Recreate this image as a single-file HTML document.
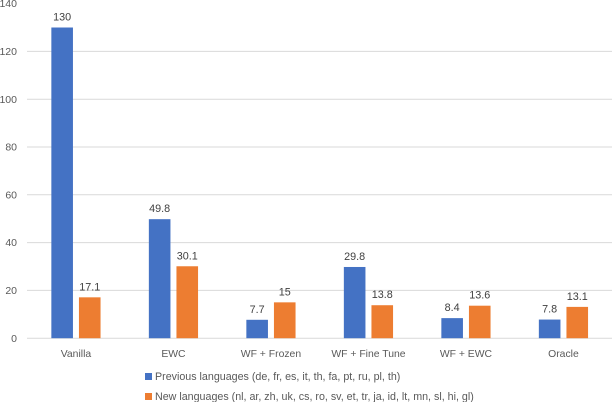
<!DOCTYPE html>
<html>
<head>
<meta charset="utf-8">
<style>
html,body{margin:0;padding:0;background:#fff;width:612px;height:402px;overflow:hidden}
svg{display:block;font-family:"Liberation Sans",sans-serif}
</style>
</head>
<body>
<svg id="chart" width="612" height="402" viewBox="0 0 612 402"></svg>
<script>
const categories = ["Vanilla", "EWC", "WF + Frozen", "WF + Fine Tune", "WF + EWC", "Oracle"];
const previousValues = [130, 49.8, 7.7, 29.8, 8.4, 7.8];
const newValues = [17.1, 30.1, 15, 13.8, 13.6, 13.1];
const valueLabelsPrevious = ["130", "49.8", "7.7", "29.8", "8.4", "7.8"];
const valueLabelsNew = ["17.1", "30.1", "15", "13.8", "13.6", "13.1"];
const yTicks = [0, 20, 40, 60, 80, 100, 120, 140];
const legendLabels = ["Previous languages (de, fr, es, it, th, fa, pt, ru, pl, th)", "New languages (nl, ar, zh, uk, cs, ro, sv, et, tr, ja, id, lt, mn, sl, hi, gl)"];

const svg = document.getElementById('chart');
const NS = 'http://www.w3.org/2000/svg';
const plotLeft = 27, plotRight = 612, baseY = 338.2, pxPerUnit = 2.39;
const bandWidth = (plotRight - plotLeft) / categories.length;
const barWidth = 21.6, barGap = 6;

function y(v) { return baseY - v * pxPerUnit; }
function xCenter(i) { return plotLeft + bandWidth * (i + 0.5) + 0.2; }

function make(tag, attrs, text) {
  const el = document.createElementNS(NS, tag);
  for (const k in attrs) el.setAttribute(k, attrs[k]);
  if (text !== undefined) el.textContent = text;
  svg.appendChild(el);
  return el;
}

yTicks.forEach(function (t) {
  if (t !== 140) {
    const grid = make('line', { x1: plotLeft, x2: plotRight, y1: y(t), y2: y(t), stroke: '#d9d9d9', 'stroke-width': 1 });
    
    
  }
  const label = make('text', { x: 17, y: y(t) + 3.6, 'text-anchor': 'end', 'font-size': 10.5, fill: '#595959' }, String(t));
  
  
});

categories.forEach(function (c, i) {
  const cx = xCenter(i);
  const blue = make('rect', { x: cx - barGap / 2 - barWidth, y: y(previousValues[i]), width: barWidth, height: baseY - y(previousValues[i]), fill: '#4472c4' });
  
  
  const orange = make('rect', { x: cx + barGap / 2, y: y(newValues[i]), width: barWidth, height: baseY - y(newValues[i]), fill: '#ed7d31' });
  
  
  const lb = make('text', { x: cx - barGap / 2 - barWidth / 2, y: y(previousValues[i]) - 7, 'text-anchor': 'middle', 'font-size': 10.8, fill: '#404040' }, valueLabelsPrevious[i]);
  
  
  const lo = make('text', { x: cx + barGap / 2 + barWidth / 2, y: y(newValues[i]) - 7, 'text-anchor': 'middle', 'font-size': 10.8, fill: '#404040' }, valueLabelsNew[i]);
  
  
  const cat = make('text', { x: cx, y: 357, 'text-anchor': 'middle', 'font-size': 10.4, fill: '#595959' }, c);
  
  
});

const legendColors = ['#4472c4', '#ed7d31'];
const legendYs = [376.5, 396.5];
legendLabels.forEach(function (l, i) {
  const sw = make('rect', { x: 145, y: legendYs[i] - 3.5, width: 7, height: 7, fill: legendColors[i] });
  
  
  const tx = make('text', { x: 155, y: legendYs[i] + 3.6, 'font-size': 10.7, fill: '#595959' }, l);
  
  
});
</script>
</body>
</html>
